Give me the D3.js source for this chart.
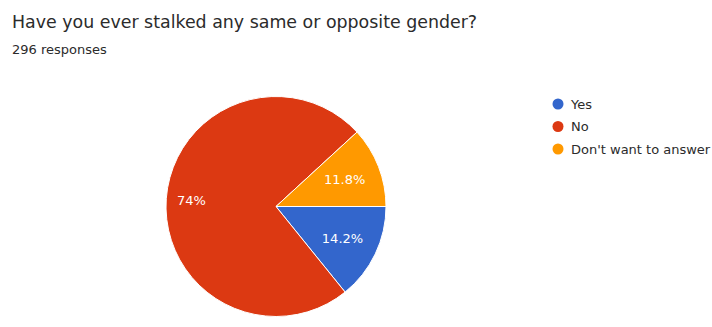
<!DOCTYPE html>
<html>
<head>
<meta charset="utf-8">
<script src="https://cdn.jsdelivr.net/npm/d3@7"></script>
<style>
  html, body { margin: 0; padding: 0; background: #ffffff; }
  svg { display: block; }
  text { font-family: "DejaVu Sans", Verdana, sans-serif; }
</style>
</head>
<body>
<svg id="chart" width="712" height="327"></svg>
<script>
// Survey answers, counted responses
const answers = ["Yes", "No", "Don't want to answer"];
const counts = [42, 219, 35];
const percentLabels = ["14.2%", "74%", "11.8%"];
const colors = ["#3366cc", "#dc3912", "#ff9900"];

const title = "Have you ever stalked any same or opposite gender?";
const subtitle = "296 responses";

const svg = d3.select("#chart");

svg.append("text")
  .attr("x", 12)
  .attr("y", 28)
  .attr("font-size", 17.4)
  .attr("fill", "#2b2b2b")
  .text(title);

svg.append("text")
  .attr("x", 12)
  .attr("y", 54)
  .attr("font-size", 13)
  .attr("fill", "#2b2b2b")
  .text(subtitle);

const cx = 276, cy = 206.5, r = 110;

const data = answers.map((a, i) => ({ answer: a, count: counts[i], label: percentLabels[i], color: colors[i] }));

// Slices run clockwise from the 3 o'clock position
const pie = d3.pie()
  .value(d => d.count)
  .sort(null)
  .startAngle(Math.PI / 2)
  .endAngle(Math.PI / 2 + 2 * Math.PI);

const arc = d3.arc().innerRadius(0).outerRadius(r);
// Labels sit a little further out on the dominant slice
const labelRadius = d => (d.endAngle - d.startAngle > Math.PI ? 0.77 : 0.67) * r;
const labelPos = d => {
  const a = (d.startAngle + d.endAngle) / 2;
  const lr = labelRadius(d);
  return [Math.sin(a) * lr, -Math.cos(a) * lr];
};

const g = svg.append("g").attr("transform", `translate(${cx},${cy})`);
const arcs = pie(data);

g.selectAll("path.slice")
  .data(arcs)
  .join("path")
  .attr("class", "slice")
  .attr("d", arc)
  .attr("fill", d => d.data.color)
  .attr("stroke", "#ffffff")
  .attr("stroke-width", 1);

g.selectAll("text.pct")
  .data(arcs)
  .join("text")
  .attr("class", "pct")
  .attr("transform", d => `translate(${labelPos(d)})`)
  .attr("text-anchor", "middle")
  .attr("dy", "0.36em")
  .attr("font-size", 13)
  .attr("fill", "#ffffff")
  .text(d => d.data.label);

// Legend
const legend = svg.append("g").attr("transform", "translate(558,104)");
const item = legend.selectAll("g.item")
  .data(data)
  .join("g")
  .attr("class", "item")
  .attr("transform", (d, i) => `translate(0,${i * 22.5})`);

item.append("circle")
  .attr("r", 5.5)
  .attr("fill", d => d.color);

item.append("text")
  .attr("x", 13)
  .attr("dy", "0.36em")
  .attr("font-size", 13)
  .attr("fill", "#2b2b2b")
  .text(d => d.answer);
</script>
</body>
</html>
